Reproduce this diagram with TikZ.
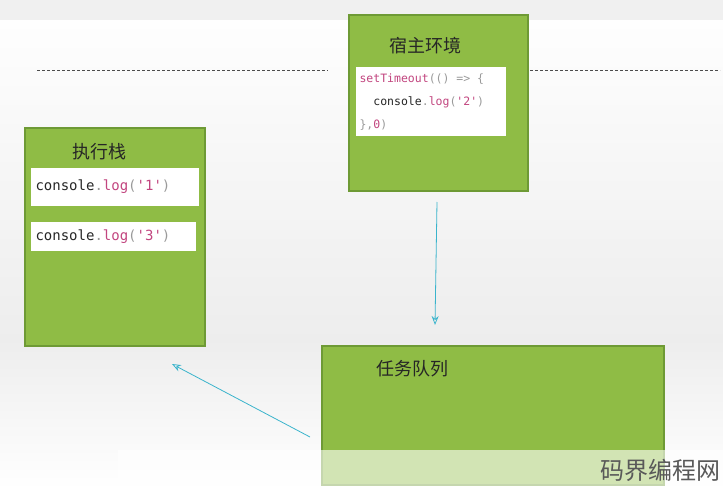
\documentclass[tikz,border=0pt]{standalone}
\usepackage{fontspec}
\usetikzlibrary{arrows.meta}
\newfontfamily\cjk{Noto Sans CJK SC}
\newfontfamily\code{DejaVu Sans Mono}
\definecolor{gfill}{HTML}{8FBC45}
\definecolor{gline}{HTML}{6E9A35}
\definecolor{pk}{HTML}{C2457F}
\definecolor{pa}{HTML}{9A9A9A}
\definecolor{arr}{HTML}{3AB4CC}
\begin{document}
\begin{tikzpicture}[x=1pt,y=-1pt,
  gbox/.style={draw=gline,line width=1.2pt,fill=gfill},
  wbox/.style={fill=white,draw=none},
  title/.style={font=\cjk\fontsize{18}{20}\selectfont,text=black!85},
  cd/.style={font=\code\fontsize{14}{16}\selectfont,text=black!85,anchor=west},
  cds/.style={font=\code\fontsize{11.5}{23}\selectfont,text=black!85,anchor=west,align=left},
  conn/.style={draw=arr,line width=0.8pt,-{Stealth[length=9pt,width=7pt,open]}}]
\useasboundingbox (0,0) rectangle (723,490);
\shade[top color=white,bottom color=black!7] (0,0) rectangle (723,340);
\shade[top color=black!7,bottom color=white] (0,340) rectangle (723,490);
\fill[black!6] (0,0) rectangle (723,20);
\draw[black!70,dashed,dash pattern=on 3pt off 2pt] (37,70) -- (328,70);
\draw[black!70,dashed,dash pattern=on 3pt off 2pt] (530,70) -- (720,70);
% host
\path[gbox] (349,15) rectangle (528,191);
\node[title] (host) at (425,46) {宿主环境};
\path[wbox] (356,67) rectangle (506,136);
\node[cds] (c2) at (356,102) {\textcolor{pk}{setTimeout}\textcolor{pa}{(() => \{}\\\ \ console\textcolor{pa}{.}\textcolor{pk}{log}\textcolor{pa}{(}\textcolor{pk}{'2'}\textcolor{pa}{)}\\\textcolor{pa}{\},}\textcolor{pk}{0}\textcolor{pa}{)}};
\coordinate (hb) at (437,202);
% stack
\path[gbox] (25,128) rectangle (205,346);
\node[title] (stk) at (99,152) {执行栈};
\path[wbox] (31,168) rectangle (199,206);
\node[cd] (c1) at (32,187) {console\textcolor{pa}{.}\textcolor{pk}{log}\textcolor{pa}{(}\textcolor{pk}{'1'}\textcolor{pa}{)}};
\path[wbox] (31,222) rectangle (196,251);
\node[cd] (c3) at (32,237) {console\textcolor{pa}{.}\textcolor{pk}{log}\textcolor{pa}{(}\textcolor{pk}{'3'}\textcolor{pa}{)}};
\coordinate (st) at (172,364);
% queue
\path[gbox] (322,346) rectangle (664,485);
\node[title] (q) at (412,369) {任务队列};
\coordinate (qt) at (435,325);
\coordinate (qs) at (310,437);
\draw[conn] (hb) -- (qt);
\draw[conn] (qs) -- (st);
% watermark
\fill[white,opacity=0.6] (118,450) rectangle (723,490);
\node[font=\cjk\fontsize{24}{26}\selectfont,text=black!65,anchor=east,inner sep=1pt] (wm) at (722,470) {码界编程网};
\end{tikzpicture}
\end{document}
